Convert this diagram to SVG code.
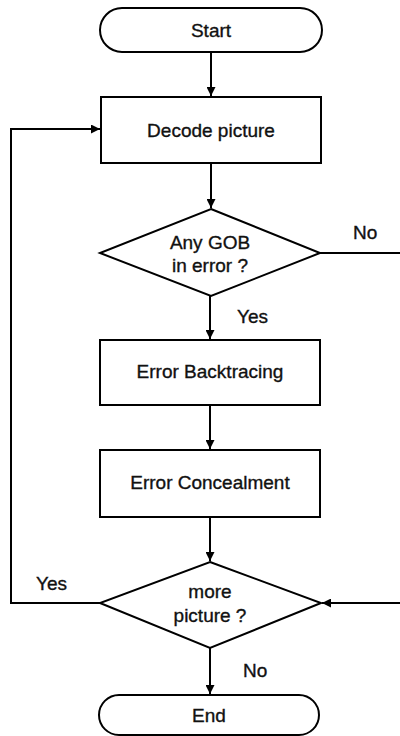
<svg xmlns="http://www.w3.org/2000/svg" width="400" height="736" viewBox="0 0 400 736">
  <style>
    .shape { fill: #ffffff; stroke: #000000; stroke-width: 2; }
    .wire { fill: none; stroke: #000000; stroke-width: 2; }
    .label { font-family: "Liberation Sans", Arial, sans-serif; font-size: 19px; fill: #111111; stroke: #111111; stroke-width: 0.35; text-anchor: middle; }
    .side { font-family: "Liberation Sans", Arial, sans-serif; font-size: 19px; fill: #111111; stroke: #111111; stroke-width: 0.35; }
  </style>
  <defs>
    <marker id="arrow" viewBox="0 0 10 10" refX="10" refY="5" markerWidth="9" markerHeight="9" markerUnits="userSpaceOnUse" orient="auto">
      <path d="M0,0 L10,5 L0,10 z" fill="#000000"/>
    </marker>
  </defs>
  <rect width="400" height="736" fill="#ffffff"/>

  <!-- connectors -->
  <g id="connectors">
    <path class="wire" d="M211,52 V96" marker-end="url(#arrow)"/>
    <path class="wire" d="M211,163 V208" marker-end="url(#arrow)"/>
    <path class="wire" d="M210,296 V339" marker-end="url(#arrow)"/>
    <path class="wire" d="M210,405 V449" marker-end="url(#arrow)"/>
    <path class="wire" d="M210,517 V561" marker-end="url(#arrow)"/>
    <path class="wire" d="M210,648 V694" marker-end="url(#arrow)"/>
    <!-- loop back to decoding -->
    <path class="wire" d="M100,603 H11 V129 H100" marker-end="url(#arrow)"/>
    <!-- no error: skip to next-picture test -->
    <path class="wire" d="M320,253 H405 V603 H322" marker-end="url(#arrow)"/>
    <text class="side" x="237" y="323">Yes</text>
    <text class="side" x="353" y="239">No</text>
    <text class="side" x="36" y="590">Yes</text>
    <text class="side" x="243" y="677">No</text>
  </g>

  <g id="start">
    <rect class="shape" x="100" y="8" width="222" height="44" rx="22" ry="22"/>
    <text class="label" x="211" y="37">Start</text>
  </g>

  <g id="decode">
    <rect class="shape" x="101" y="97" width="220" height="66"/>
    <text class="label" x="211" y="137">Decode picture</text>
  </g>

  <g id="gob-check">
    <polygon class="shape" points="211,209 320,253 211,296 100,253"/>
    <text class="label" x="210" y="249">Any GOB</text>
    <text class="label" x="210" y="272">in error ?</text>
  </g>

  <g id="backtracing">
    <rect class="shape" x="100" y="340" width="220" height="65"/>
    <text class="label" x="210" y="378">Error Backtracing</text>
  </g>

  <g id="concealment">
    <rect class="shape" x="100" y="450" width="220" height="67"/>
    <text class="label" x="210" y="489">Error Concealment</text>
  </g>

  <g id="more-check">
    <polygon class="shape" points="210,562 321,603 210,648 100,603"/>
    <text class="label" x="210" y="598">more</text>
    <text class="label" x="210" y="622">picture ?</text>
  </g>

  <g id="end">
    <rect class="shape" x="99" y="695" width="220" height="40" rx="20" ry="20"/>
    <text class="label" x="209" y="722">End</text>
  </g>
</svg>
